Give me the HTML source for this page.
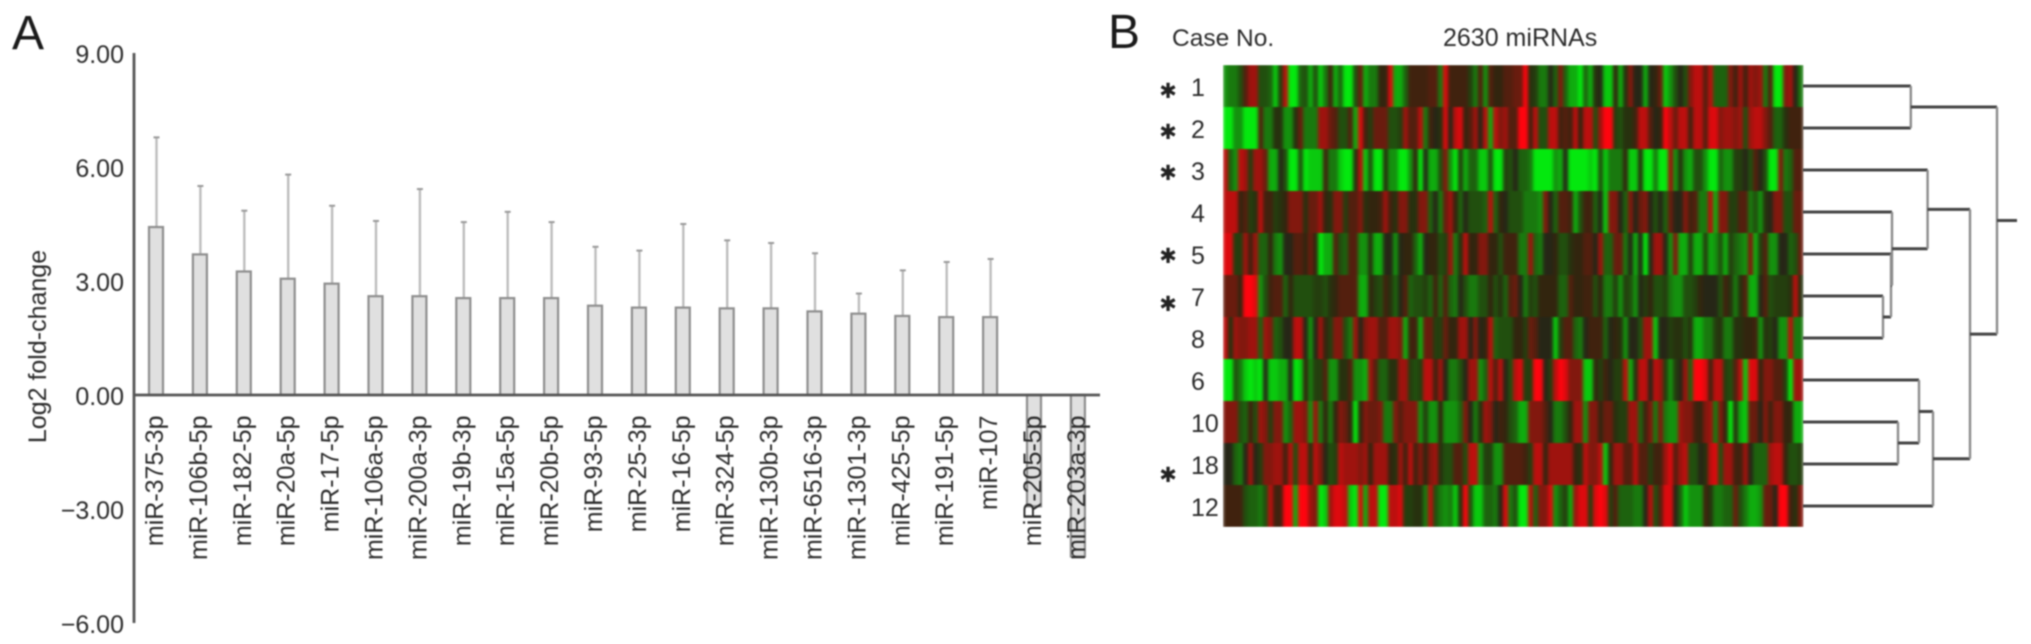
<!DOCTYPE html>
<html lang="en">
<head>
<meta charset="utf-8">
<title>miRNA fold-change and heatmap</title>
<style>
html,body{margin:0;padding:0;background:#fff;}
body{width:2031px;height:644px;overflow:hidden;}
svg{display:block;filter:blur(0.7px);}
text{font-family:"Liberation Sans",sans-serif;fill:#2b2b2b;}
</style>
</head>
<body>
<svg id="figure" xmlns="http://www.w3.org/2000/svg" width="2031" height="644" viewBox="0 0 2031 644">
  <defs>
    <filter id="stripe-blur" x="0" y="0" width="100%" height="100%" color-interpolation-filters="sRGB">
      <feGaussianBlur stdDeviation="1.5 0.5" edgeMode="duplicate"/>
    </filter>
  </defs>
  <rect x="0" y="0" width="2031" height="644" fill="#fff"/>
  <text x="12" y="49" font-size="48" style="fill:#1a1a1a">A</text>
  <text x="1108" y="48" font-size="48" style="fill:#1a1a1a">B</text>
  <text transform="translate(46 346.5) rotate(-90)" text-anchor="middle" font-size="25">Log2 fold-change</text>
  <text x="1172" y="46" font-size="24.5">Case No.</text>
  <text x="1443" y="46" font-size="25">2630 miRNAs</text>
  <g id="bar-chart"></g>
  <g id="heatmap" filter="url(#stripe-blur)"></g>
  <g id="case-labels"></g>
  <g font-size="21" text-anchor="middle" style="font-family:'DejaVu Sans',sans-serif">
    <text x="1168" y="98" style="font-family:'DejaVu Sans',sans-serif;fill:#222">✱</text>
    <text x="1168" y="139" style="font-family:'DejaVu Sans',sans-serif;fill:#222">✱</text>
    <text x="1168" y="180" style="font-family:'DejaVu Sans',sans-serif;fill:#222">✱</text>
    <text x="1168" y="263" style="font-family:'DejaVu Sans',sans-serif;fill:#222">✱</text>
    <text x="1168" y="311" style="font-family:'DejaVu Sans',sans-serif;fill:#222">✱</text>
    <text x="1168" y="482" style="font-family:'DejaVu Sans',sans-serif;fill:#222">✱</text>
  </g>
  <g id="dendrogram"></g>
</svg>
<script>
/* ---------- bar chart data ---------- */
const mirnaNames = ['miR-375-3p','miR-106b-5p','miR-182-5p','miR-20a-5p','miR-17-5p','miR-106a-5p','miR-200a-3p','miR-19b-3p','miR-15a-5p','miR-20b-5p','miR-93-5p','miR-25-3p','miR-16-5p','miR-324-5p','miR-130b-3p','miR-6516-3p','miR-1301-3p','miR-425-5p','miR-191-5p','miR-107','miR-205-5p','miR-203a-3p'];
const foldChange = [4.42,3.7,3.25,3.06,2.93,2.6,2.6,2.55,2.55,2.55,2.35,2.3,2.3,2.28,2.28,2.2,2.14,2.08,2.05,2.05,-2.93,-4.25];
const errorTop = [6.78,5.5,4.85,5.8,4.98,4.58,5.42,4.55,4.82,4.55,3.9,3.8,4.5,4.07,4.0,3.73,2.67,3.28,3.5,3.58,null,null];
const yTicks = [9,6,3,0,-3,-6];

/* ---------- heatmap data: positive = red, negative = green, magnitude 0-9 ---------- */
const caseNames = ['1','2','3','4','5','7','8','6','10','18','12'];
const heatCase1 = [-6,-5,-5,-3,3,6,6,-3,-3,-4,-8,-2,7,-9,-9,-4,-3,-7,-3,-8,-5,2,-7,-4,-9,-9,-3,4,-7,
 -5,-5,1,1,8,-7,-7,-4,2,2,2,2,3,3,-5,8,2,2,2,2,-2,-5,3,-6,3,1,1,3,3,
 4,4,9,-1,-2,-5,-5,0,-4,5,-4,-7,-7,-9,-4,-7,-1,0,-8,-8,1,-7,-1,5,0,0,-7,0,1,
 4,-8,-6,-3,0,-3,5,7,7,3,7,-4,-4,-4,5,2,6,2,6,5,6,-5,3,-9,-9,5,6,0,-5];
const heatCase2 = [-9,-9,-6,-6,-9,-9,-9,3,-5,-5,-1,-1,-6,-6,-1,4,-5,-5,-5,6,6,4,3,-3,-3,3,-7,8,2,
 -2,4,4,4,-3,-3,-2,6,3,3,7,-5,2,0,-1,8,0,7,8,1,3,6,0,7,-7,7,5,6,3,
 3,9,9,2,7,-3,-3,7,7,2,3,2,7,1,7,7,-3,6,9,9,-2,-3,-1,-1,2,7,7,3,0,
 1,9,7,4,7,7,2,7,7,3,8,8,5,6,6,5,6,-3,6,7,7,5,3,-4,-4,-1,2,2,2];
const heatCase3 = [7,-4,-6,7,6,-2,6,6,4,-7,-7,0,-3,-9,-9,-3,-9,-8,-8,-8,2,-5,-5,-8,-9,-9,-1,7,-8,
 -3,-9,-9,-1,-6,-6,-9,-9,-6,1,-9,0,-7,-7,-3,5,-6,-9,-2,-7,-4,-4,-8,-8,-3,-9,-9,-2,-3,
 0,-4,-4,-5,-9,-9,-9,-9,-6,-7,0,-9,-9,-9,-9,-8,-9,-3,-8,-5,-5,-5,1,-8,-8,-1,-9,-9,-5,
 -9,-9,6,-6,-1,-6,-7,-3,-3,-6,-9,-9,-4,-6,-6,-2,-2,0,-3,3,0,-3,-9,-9,5,-5,-4,3,3];
const heatCase4 = [7,7,7,1,3,-2,-1,7,2,2,-2,-1,1,5,5,5,-1,4,4,6,1,-1,5,5,-2,3,3,5,-1,
 1,1,2,6,2,-1,5,5,-1,-1,5,5,-4,0,-5,4,6,1,-4,0,-3,-3,-3,-4,7,-4,1,0,-3,
 -3,-3,-5,-5,-5,-6,5,0,-4,3,3,2,-7,-3,2,2,-4,0,-8,5,5,0,-4,5,0,4,5,0,-3,
 0,-4,4,0,0,5,2,3,-5,-5,7,-7,5,5,-2,-2,3,3,-5,-3,-6,-1,0,5,5,-3,-3,4,4];
const heatCase5 = [8,8,-2,-2,6,2,6,-4,-4,1,-5,-6,0,0,3,3,1,4,1,-9,-7,-7,3,-3,-4,3,3,-6,-6,
 -1,-7,-7,0,0,-6,0,1,1,-4,-7,0,1,1,-3,-2,6,-5,-1,7,1,1,5,5,1,1,-3,2,2,
 2,-5,-5,6,-4,-5,0,0,1,-3,-3,-1,1,1,3,3,0,6,-4,-4,4,4,-5,0,-7,0,-9,0,6,
 6,0,-6,5,-7,-7,-2,-7,-7,-2,-7,-6,-3,-7,-2,-4,-5,-6,5,-7,-2,3,-6,-6,0,0,-4,-3,4];
const heatCase7 = [4,4,4,1,9,9,8,-6,-3,2,3,3,-4,1,-3,-3,-3,-3,-2,-2,-3,-1,1,3,3,3,3,-7,-7,
 1,-2,-3,2,-1,-4,0,3,-4,-3,-3,-2,-4,2,-4,3,-4,-5,0,-3,-5,-5,-3,-3,1,-3,-1,-4,3,
 4,0,-5,-2,-3,1,1,1,1,-4,-4,3,1,1,2,2,-3,1,-5,-5,-2,-6,-2,-3,-6,0,-2,1,-3,
 -3,-2,-5,-6,-6,-3,-3,-2,1,0,0,0,-3,2,-1,-5,-1,3,-7,-7,0,3,-3,-2,-2,-2,-1,7,-1];
const heatCase8 = [7,-1,6,5,5,6,6,-4,6,5,-4,-3,0,0,7,7,0,-6,0,6,1,-2,5,5,-3,-5,6,0,5,
 6,6,3,3,6,6,5,-7,2,2,-7,4,4,-2,-2,4,1,1,6,6,0,5,0,1,7,-4,-3,-3,-3,
 1,1,-2,4,3,0,0,0,-8,-2,3,3,-4,-5,0,2,2,2,-4,0,1,-1,-6,0,0,-3,6,6,-8,
 0,0,-2,-1,-1,-3,-1,-7,-7,-5,-5,-2,-1,-5,-5,-1,-1,1,1,2,-6,-1,-2,0,-6,-6,7,-5,-5];
const heatCase6 = [-9,-9,-3,-5,-8,-9,-8,-9,0,-8,-8,-7,-7,0,-9,-8,1,-5,-2,-2,3,-6,-6,-1,-1,3,-6,-6,-7,
 6,3,-4,-4,-1,-1,6,6,-2,-3,-2,7,7,2,6,0,-5,-5,-3,0,6,6,-6,-4,7,3,7,0,-3,
 7,8,-2,-2,9,9,0,-2,7,9,8,5,5,5,-8,-8,1,-2,2,0,-2,-2,7,-7,-1,7,7,0,7,
 6,-2,-6,-2,0,6,-4,9,9,8,2,7,7,-2,-3,3,7,-8,8,8,1,5,5,3,3,-2,-9,6,6];
const heatCase10 = [5,5,5,-3,-4,2,-3,6,5,-2,5,5,-6,-4,6,6,5,-6,6,-5,1,-5,1,5,4,1,-9,1,5,
 4,4,5,-5,-5,5,3,5,5,5,-6,-2,-6,-6,1,-6,-6,-6,-4,5,0,-5,-1,6,5,0,2,1,-3,
 -4,-7,-7,5,5,5,3,0,-5,-5,-3,1,6,6,-6,5,5,1,4,4,-1,-2,-2,6,6,-4,2,5,-5,
 5,-5,-6,-6,6,5,5,2,1,5,6,-5,5,1,-9,-1,-7,-8,4,4,0,5,2,5,5,1,1,-7,-7];
const heatCase18 = [0,0,-4,-5,0,6,0,-2,5,5,6,6,2,7,-3,7,7,-1,7,5,0,-3,-2,7,6,6,6,5,6,
 1,6,6,6,1,-1,6,2,7,2,5,1,5,6,-1,-3,-3,3,3,-3,7,7,-6,-2,-2,-6,-6,3,3,
 3,3,2,-2,7,7,1,6,6,6,6,6,1,-1,7,5,5,7,-8,1,6,6,3,3,7,3,3,-2,2,
 2,6,8,3,6,7,-3,-3,0,-1,7,8,-3,6,6,2,2,6,0,-4,-4,-4,6,7,7,1,-3,-3,-2];
const heatCase12 = [2,2,2,2,-3,-4,-4,-5,-3,7,2,2,9,9,-7,9,9,6,5,-9,-8,6,8,8,7,-8,-9,8,-7,
 7,7,-9,-9,7,7,8,-2,-2,-1,-1,-5,7,-3,-5,-6,-5,-8,-1,9,-3,-8,-8,-4,-4,-5,0,8,-5,
 -3,-9,-9,7,-4,5,5,8,-6,-4,-2,-7,6,8,8,-2,8,9,8,-2,3,-4,-4,-4,-5,-5,0,7,-3,
 3,8,8,0,-4,-8,-6,-6,-6,2,-1,-5,-5,-4,-4,4,-3,-5,-7,-7,-6,4,4,0,9,9,2,-1,5];
const heatRows = [heatCase1,heatCase2,heatCase3,heatCase4,heatCase5,heatCase7,heatCase8,heatCase6,heatCase10,heatCase18,heatCase12];

/* ---------- dendrogram data: [child A, child B, merge distance]; ids 0-10 are leaves, later ids are merges ---------- */
const dendroMerges = [[0,1,53.9],[5,6,40],[4,12,44],[3,13,44.5],[2,14,62.3],[8,9,47.5],[7,16,58],[17,10,65],[15,18,83.5],[11,19,97]];
const dendroRootDistance = 107;

/* ---------- helpers and scales ---------- */
const NS = 'http://www.w3.org/2000/svg';
function make(tag, parent, attrs, txt){
  const el = document.createElementNS(NS, tag);
  for (const k in attrs) el.setAttribute(k, attrs[k]);
  if (txt !== undefined) el.textContent = txt;
  parent.appendChild(el);
  return el;
}
const yScale = v => 395 - v * 38;
const xScale = i => 156 + i * 43.9;

/* ---------- bar chart ---------- */
const barG = document.getElementById('bar-chart');
const barW = 14;
mirnaNames.forEach((name, i) => {
  const v = foldChange[i], cx = xScale(i);
  if (errorTop[i] !== null) {
    const stem = make('line', barG, {x1:cx+0.5,x2:cx+0.5,y1:yScale(v),y2:yScale(errorTop[i]),stroke:'#bdbdbd','stroke-width':2.4});
    
    
    const cap = make('line', barG, {x1:cx-2.5,x2:cx+3.5,y1:yScale(errorTop[i]),y2:yScale(errorTop[i]),stroke:'#999','stroke-width':2});
    
    
  }
  const bar = make('rect', barG, {x:cx-barW/2,y:Math.min(yScale(v),yScale(0)),width:barW,height:Math.abs(yScale(v)-yScale(0)),fill:'#e0e0e0',stroke:'#8e8e8e','stroke-width':2.2});
  
  
});
const yAxis = make('line', barG, {x1:134,x2:134,y1:yScale(9),y2:yScale(-6),stroke:'#555','stroke-width':2.8});


const xAxis = make('line', barG, {x1:134,x2:1100,y1:yScale(0),y2:yScale(0),stroke:'#555','stroke-width':2.8});


yTicks.forEach(t => {
  const label = (t < 0 ? '\u2212' : '') + Math.abs(t).toFixed(2);
  const tick = make('text', barG, {x:124,y:yScale(t)+10,'text-anchor':'end','font-size':25}, label);
  
  
});
mirnaNames.forEach((name, i) => {
  const lab = make('text', barG, {transform:'translate(' + (xScale(i)+7) + ' 415.5) rotate(-90)','text-anchor':'end','font-size':25}, name);
  
  
});

/* ---------- heatmap ---------- */
const hmLeft = 1223, hmTop = 65, hmW = 580, rowH = 42;
const rowCenter = r => hmTop + (r + 0.5) * rowH;
function heatColor(v){
  const t = Math.pow(Math.abs(v) / 9, 1.5);
  if (v > 0) return 'rgb(' + Math.round(42 + 213*t) + ',' + Math.round(38 - 34*t) + ',14)';
  if (v < 0) return 'rgb(' + Math.round(40 - 36*t) + ',' + Math.round(42 + 190*t) + ',14)';
  return 'rgb(38,38,22)';
}
const hmG = document.getElementById('heatmap');
heatRows.forEach((row, r) => {
  const cw = hmW / row.length;
  row.forEach((v, c) => {
    const cell = make('rect', hmG, {x:hmLeft+c*cw,y:hmTop+r*rowH,width:cw+0.4,height:rowH,fill:heatColor(v)});
    
    
  });
});
const caseG = document.getElementById('case-labels');
caseNames.forEach((name, r) => {
  const lab = make('text', caseG, {x:1191,y:rowCenter(r)+10,'font-size':25}, name);
  
  
});

/* ---------- dendrogram ---------- */
const dG = document.getElementById('dendrogram');
const distX = d => 1803 + d * 2;
const nodes = caseNames.map((_, r) => ({y:rowCenter(r), d:0}));
function hLine(x1, x2, y){
  const l = make('line', dG, {x1:x1,x2:x2,y1:y,y2:y,stroke:'#444','stroke-width':3});
  
  
}
dendroMerges.forEach(m => {
  const a = nodes[m[0]], b = nodes[m[1]], x = distX(m[2]);
  hLine(distX(a.d), x, a.y);
  hLine(distX(b.d), x, b.y);
  const v = make('line', dG, {x1:x,x2:x,y1:a.y,y2:b.y,stroke:'#8c8c8c','stroke-width':2.4});
  
  
  nodes.push({y:(a.y+b.y)/2, d:m[2]});
});
const rootNode = nodes[nodes.length - 1];
hLine(distX(rootNode.d), distX(dendroRootDistance), rootNode.y);
</script>
</body>
</html>
